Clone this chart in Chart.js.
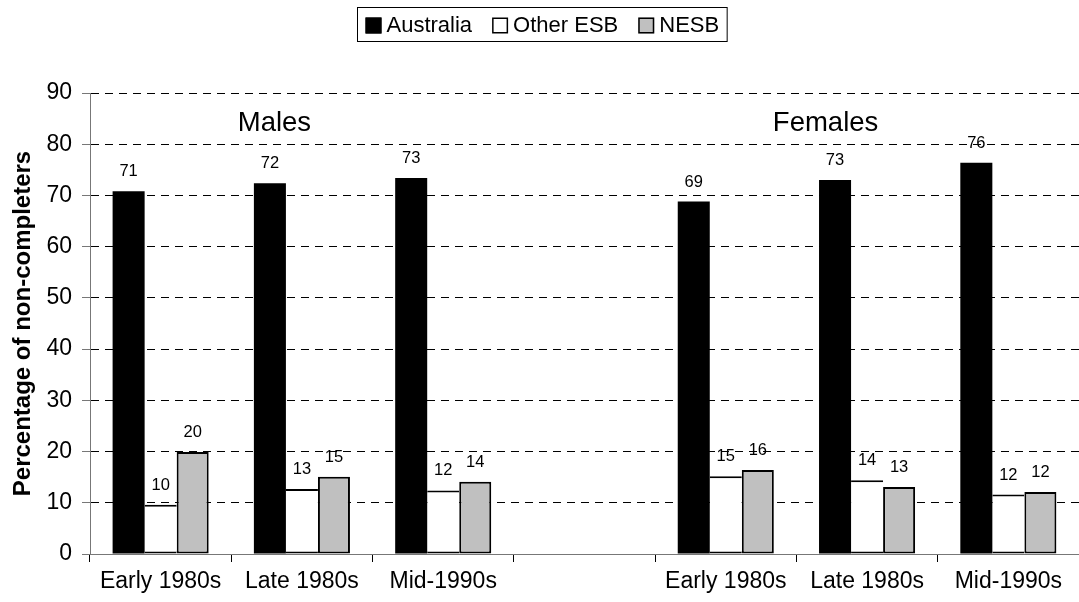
<!DOCTYPE html>
<html><head><meta charset="utf-8">
<script src="https://cdn.jsdelivr.net/npm/chart.js@4/dist/chart.umd.min.js"></script>
<style>html,body{margin:0;padding:0;background:#fff}#wrap{width:1079px;height:602px;position:relative}</style>
</head><body><div id="wrap"><canvas id="c" width="1079" height="602"></canvas></div>
<script>
const categories = ['Early 1980s','Late 1980s','Mid-1990s','','Early 1980s','Late 1980s','Mid-1990s'];
const australia = [70.8, 72.4, 73.4, null, 68.8, 73.0, 76.4];
const otherESB  = [9.6, 12.7, 12.4, null, 15.2, 14.4, 11.6];
const nesb      = [19.9, 15.1, 14.1, null, 16.4, 13.1, 12.1];
const seriesNames = ['Australia', 'Other ESB', 'NESB'];
const groupTitles = ['Males', 'Females'];
const groupTitleCategory = [1, 5];
const yAxisTitle = 'Percentage of non-completers';
const yMin = 0, yMax = 90, yStep = 10;

const FONT = "'Liberation Sans', Arial, sans-serif";

const legendPlugin = {
  id: 'boxLegend',
  afterDraw(chart) {
    const ctx = chart.ctx;
    const fs = 22, sq = 16, padX = 8, gapST = 5, gapItem = 20;
    ctx.save();
    ctx.font = fs + 'px ' + FONT;
    const items = chart.data.datasets.map(d => ({text: d.label, fill: d.backgroundColor, w: ctx.measureText(d.label).width}));
    let total = padX * 2;
    items.forEach((it, i) => { total += sq + gapST + it.w + (i < items.length - 1 ? gapItem : 0); });
    const cx = 542;
    const left = Math.round(cx - total / 2) + 0.5;
    const top = 7.5, h = 34;
    ctx.strokeStyle = '#000'; ctx.lineWidth = 1;
    ctx.strokeRect(left, top, total, h);
    let x = left + padX;
    const cy = top + h / 2 + 1;
    items.forEach(it => {
      ctx.fillStyle = it.fill;
      ctx.fillRect(x, cy - sq / 2, sq, sq);
      ctx.strokeStyle = '#000'; ctx.lineWidth = 1.5;
      ctx.strokeRect(x + 0.75, cy - sq / 2 + 0.75, sq - 1.5, sq - 1.5);
      x += sq + gapST;
      ctx.fillStyle = '#000';
      ctx.textBaseline = 'middle';
      ctx.textAlign = 'left';
      ctx.fillText(it.text, x, cy);
      x += it.w + gapItem;
    });
    ctx.restore();
  }
};

const labelPlugin = {
  id: 'valueLabels',
  afterDatasetsDraw(chart) {
    const ctx = chart.ctx;
    ctx.save();
    ctx.font = '16.5px ' + FONT;
    ctx.fillStyle = '#000';
    ctx.textAlign = 'center';
    ctx.textBaseline = 'alphabetic';
    chart.data.datasets.forEach((ds, di) => {
      const meta = chart.getDatasetMeta(di);
      meta.data.forEach((bar, i) => {
        const v = ds.data[i];
        if (v === null || v === undefined) return;
        ctx.fillText(String(Math.round(v)), bar.x, bar.y - 15);
      });
    });
    const xs = chart.scales.x, ys = chart.scales.y;
    ctx.font = '27.5px ' + FONT;
    const offsets = [-27.5, -41.5];
    groupTitles.forEach((t, i) => {
      ctx.fillText(t, xs.getPixelForValue(groupTitleCategory[i]) + offsets[i], ys.getPixelForValue(82.6));
    });
    ctx.restore();
  }
};

const common = {borderColor: '#000', categoryPercentage: 0.68, barPercentage: 1.0, borderSkipped: false};

new Chart(document.getElementById('c'), {
  type: 'bar',
  data: {
    labels: categories,
    datasets: [
      Object.assign({label: seriesNames[0], data: australia, backgroundColor: '#000000', borderWidth: 0}, common),
      Object.assign({label: seriesNames[1], data: otherESB, backgroundColor: '#ffffff', borderWidth: {top: 2, left: 0, right: 0, bottom: 2}}, common),
      Object.assign({label: seriesNames[2], data: nesb, backgroundColor: '#c0c0c0', borderWidth: {top: 2, left: 2, right: 2, bottom: 2}}, common)
    ]
  },
  options: {
    responsive: false,
    devicePixelRatio: 1,
    animation: false,
    layout: {padding: {top: 93, right: 0, left: 0, bottom: 0}},
    plugins: {legend: {display: false}, tooltip: {enabled: false}, title: {display: false}},
    scales: {
      x: {
        grid: {display: true, offset: true, drawOnChartArea: false, drawTicks: true, tickLength: 8, tickColor: '#000', tickWidth: 1},
        border: {display: true, color: '#777', width: 1},
        ticks: {color: '#000', font: {family: FONT, size: 23}, padding: 6, maxRotation: 0, autoSkip: false},
        afterFit: s => { s.height = 48; }
      },
      y: {
        min: yMin, max: yMax,
        grid: {
          color: c => (c.tick && c.tick.value === 0) ? 'rgba(0,0,0,0)' : '#000',
          lineWidth: 1, drawTicks: true, tickLength: 8, tickColor: '#777', tickBorderDash: []
        },
        border: {display: true, color: '#777', width: 1, dash: [8, 6]},
        ticks: {stepSize: yStep, color: '#000', font: {family: FONT, size: 23}, padding: 10},
        title: {display: true, text: yAxisTitle, color: '#000', font: {family: FONT, size: 24, weight: 'bold'}, padding: {top: 9, bottom: 0}},
        afterFit: s => { s.width = 90; }
      }
    }
  },
  plugins: [legendPlugin, labelPlugin]
});
</script>
</body></html>
